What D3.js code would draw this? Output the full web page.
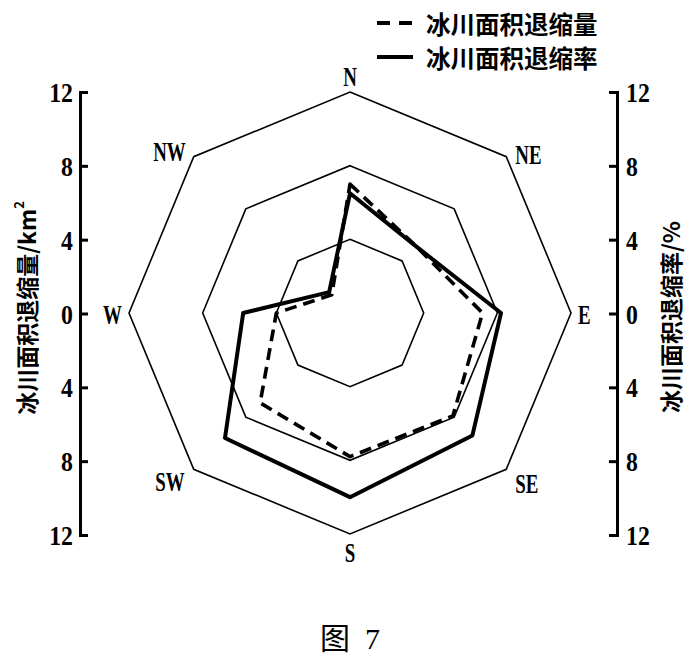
<!DOCTYPE html>
<html>
<head>
<meta charset="utf-8">
<script src="https://cdn.jsdelivr.net/npm/d3@7"></script>
<style>
  body { margin: 0; background: #fff; }
  svg { display: block; }
  .dir-label { font-family: "Liberation Serif", serif; font-weight: bold; font-size: 27px; }
  .tick-label { font-family: "Liberation Serif", serif; font-weight: bold; font-size: 27px; }
  .axis-title { font-family: "Noto Sans CJK SC", sans-serif; font-weight: bold; font-size: 23px; }
  .legend-text { font-family: "Noto Sans CJK SC", sans-serif; font-weight: bold; font-size: 24.5px; }
  .caption { font-family: "Liberation Serif", "Noto Sans CJK SC", serif; font-size: 30px; }
</style>
</head>
<body>
<svg class="chart" width="692" height="657"></svg>
<script>
// directions, clockwise from north
var directions = ['N', 'NE', 'E', 'SE', 'S', 'SW', 'W', 'NW']
// 冰川面积退缩量 (km²), dashed
var areaLoss = [7.0, 5.1, 7.2, 7.9, 7.8, 6.9, 4.0, 1.4]
// 冰川面积退缩率 (%), solid
var lossRate = [6.5, 5.1, 8.2, 9.4, 10.0, 9.6, 5.8, 1.6]
var gridLevels = [4, 8, 12]
var axisTicks = [-12, -8, -4, 0, 4, 8, 12]
var legendNames = ['冰川面积退缩量', '冰川面积退缩率']

var cx = 350, cy = 313

var svg = d3.select('.chart')

var rScale = d3.scaleLinear().domain([0, 12]).range([0, 221])
var yScale = d3.scaleLinear().domain([-12, 12]).range([535, 92])
var angle = d3.scalePoint().domain(directions).range([0, 2 * Math.PI * 7 / 8])

function pt(dir, v) {
    var a = angle(dir)
    return [cx + rScale(v) * Math.sin(a), cy - rScale(v) * Math.cos(a)]
}

var line = d3.line().curve(d3.curveLinearClosed)

// octagon grid
svg.selectAll('.grid').data(gridLevels)
    .enter()
    .append('path')
    .attr('class', 'grid')
    .attr('d', (lv) => line(directions.map((d) => pt(d, lv))))
    .attr('fill', 'none')
    .attr('stroke', '#000')
    .attr('stroke-width', 1.6)

// direction labels (condensed serif look)
var labelOffset = {N: [0, -15, 'middle'], NE: [9, -2, 'start'], E: [7, 2, 'start'], SE: [9, 14, 'start'],
    S: [0, 19, 'middle'], SW: [-9, 12, 'end'], W: [-7, 2, 'end'], NW: [-8, -5, 'end']}
svg.selectAll('.dir-label').data(directions)
    .enter()
    .append('text')
    .attr('class', 'dir-label')
    .attr('transform', (d) => {
        var p = pt(d, 12)
        return 'translate(' + (p[0] + labelOffset[d][0]) + ',' + (p[1] + labelOffset[d][1]) + ') scale(0.7, 1)'
    })
    .attr('text-anchor', (d) => labelOffset[d][2])
    .attr('dominant-baseline', 'central')
    .text((d) => d)

// data lines
svg.append('path')
    .attr('d', line(directions.map((d, i) => pt(d, areaLoss[i]))))
    .attr('fill', 'none')
    .attr('stroke', '#000')
    .attr('stroke-width', 3.6)
    .attr('stroke-dasharray', '12,7')
    .attr('stroke-linejoin', 'round')

svg.append('path')
    .attr('d', line(directions.map((d, i) => pt(d, lossRate[i]))))
    .attr('fill', 'none')
    .attr('stroke', '#000')
    .attr('stroke-width', 4)
    .attr('stroke-linejoin', 'round')

// side axes
var fmt = (d) => Math.abs(d)
var leftAxis = d3.axisRight(yScale).tickValues(axisTicks).tickSize(8).tickSizeOuter(8).tickFormat('')
var rightAxis = d3.axisLeft(yScale).tickValues(axisTicks).tickSize(8).tickSizeOuter(8).tickFormat('')

svg.append('g').attr('transform', 'translate(80, 0)').call(leftAxis)
svg.append('g').attr('transform', 'translate(617, 0)').call(rightAxis)
svg.selectAll('.domain, .tick line').attr('stroke', '#000').attr('stroke-width', 3)

svg.selectAll('.left-tick').data(axisTicks)
    .enter()
    .append('text')
    .attr('class', 'tick-label')
    .attr('transform', (d) => 'translate(73,' + (yScale(d) + 1) + ') scale(0.88, 1)')
    .attr('text-anchor', 'end')
    .attr('dominant-baseline', 'central')
    .text(fmt)

svg.selectAll('.right-tick').data(axisTicks)
    .enter()
    .append('text')
    .attr('class', 'tick-label')
    .attr('transform', (d) => 'translate(626,' + (yScale(d) + 1) + ') scale(0.88, 1)')
    .attr('dominant-baseline', 'central')
    .text(fmt)

// axis titles
var lt = svg.append('text')
    .attr('class', 'axis-title')
    .attr('transform', 'translate(26, 308) rotate(-90)')
    .attr('text-anchor', 'middle')
    .attr('dominant-baseline', 'central')
lt.append('tspan').text('冰川面积退缩量/km')
lt.append('tspan').attr('font-size', '13px').attr('dy', -8).text('2')

svg.append('text')
    .attr('class', 'axis-title')
    .attr('transform', 'translate(670, 317) rotate(-90)')
    .attr('text-anchor', 'middle')
    .attr('dominant-baseline', 'central')
    .text('冰川面积退缩率/%')

// legend
var legend = svg.append('g').attr('transform', 'translate(377, 23)')
legend.selectAll('.legend-line').data(legendNames)
    .enter()
    .append('line')
    .attr('x1', 0)
    .attr('x2', 36)
    .attr('y1', (d, i) => i * 34)
    .attr('y2', (d, i) => i * 34)
    .attr('stroke', '#000')
    .attr('stroke-width', 4)
    .attr('stroke-dasharray', (d, i) => i == 0 ? '13,9' : null)
legend.selectAll('.legend-text').data(legendNames)
    .enter()
    .append('text')
    .attr('class', 'legend-text')
    .attr('x', 49)
    .attr('y', (d, i) => i * 34)
    .attr('dominant-baseline', 'central')
    .text((d) => d)

// caption
svg.append('text')
    .attr('class', 'caption')
    .attr('x', 350)
    .attr('y', 638)
    .attr('text-anchor', 'middle')
    .attr('dominant-baseline', 'central')
    .attr('xml:space', 'preserve')
    .text('图  7')
</script>
</body>
</html>
